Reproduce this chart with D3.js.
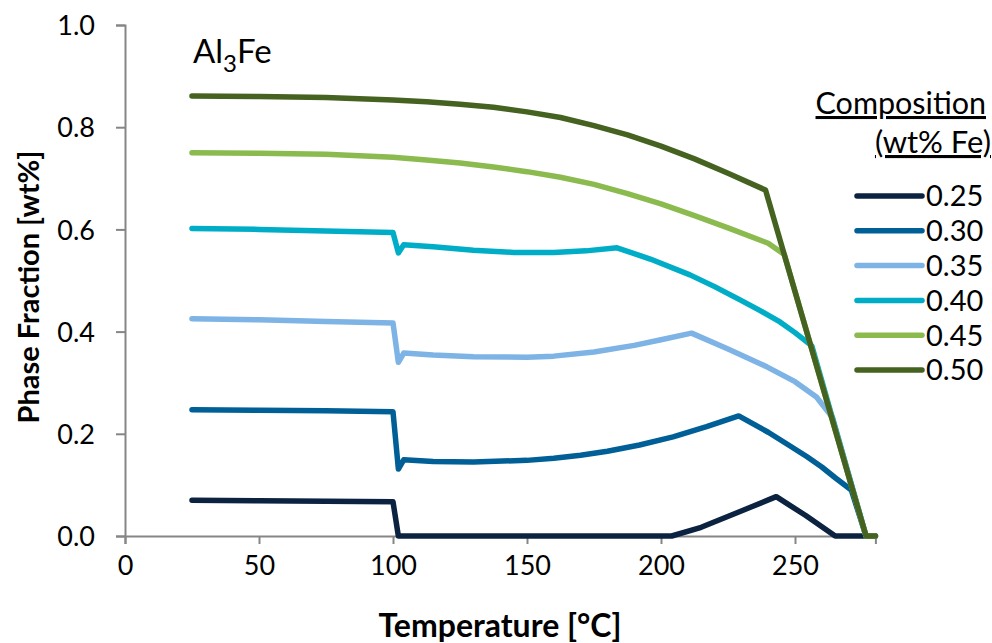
<!DOCTYPE html>
<html>
<head>
<meta charset="utf-8">
<script src="https://cdn.jsdelivr.net/npm/d3@7"></script>
<style>
  html, body { margin: 0; padding: 0; background: #fff; }
  svg { display: block; font-family: Lato, "Open Sans", sans-serif; }
</style>
</head>
<body>
<svg id="chart" width="992" height="643"></svg>
<script>
// Al3Fe phase fraction vs temperature for several Fe compositions
const compositions = ["0.25", "0.30", "0.35", "0.40", "0.45", "0.50"];
const seriesColors = ["#0B2240", "#005F96", "#7DB3E5", "#00ADC7", "#8BBB4F", "#456220"];

const temps025 = [25, 50, 75, 100, 102, 150, 204, 215, 229.5, 243, 254, 265, 276.5, 280];
const frac025  = [0.070, 0.069, 0.068, 0.067, 0, 0, 0, 0.017, 0.048, 0.077, 0.040, 0, 0, 0];

const temps030 = [25, 50, 75, 100, 102, 104, 115, 130, 150, 160, 170, 180, 192, 204.5, 217, 229, 240, 247, 254.5, 260, 265, 271, 276.5, 280];
const frac030  = [0.247, 0.246, 0.245, 0.243, 0.131, 0.149, 0.146, 0.145, 0.148, 0.152, 0.158, 0.166, 0.178, 0.194, 0.214, 0.235, 0.203, 0.180, 0.155, 0.135, 0.114, 0.090, 0, 0];

const temps035 = [25, 50, 75, 100, 102, 104, 115, 130, 150, 160, 175, 190, 200, 211.4, 225, 239.5, 250, 258, 264, 276.5, 280];
const frac035  = [0.425, 0.423, 0.420, 0.417, 0.340, 0.358, 0.354, 0.351, 0.350, 0.352, 0.360, 0.373, 0.384, 0.397, 0.366, 0.331, 0.302, 0.272, 0.232, 0, 0];

const temps040 = [25, 50, 75, 100, 102, 104, 115, 130, 145, 160, 172, 183.6, 196, 210.8, 220, 229.5, 237, 244.4, 250, 256.3, 276.5, 280];
const frac040  = [0.602, 0.600, 0.597, 0.594, 0.554, 0.570, 0.566, 0.559, 0.555, 0.555, 0.558, 0.564, 0.542, 0.511, 0.488, 0.462, 0.441, 0.419, 0.398, 0.372, 0, 0];

const temps045 = [25, 50, 75, 100, 112.5, 125, 137.5, 150, 162.5, 175, 187.5, 200, 212.5, 225, 240, 246, 276.5, 280];
const frac045  = [0.750, 0.749, 0.747, 0.741, 0.736, 0.730, 0.722, 0.713, 0.702, 0.688, 0.670, 0.650, 0.627, 0.603, 0.573, 0.551, 0, 0];

const temps050 = [25, 50, 75, 100, 112.5, 125, 137.5, 150, 162.5, 175, 187.5, 200, 212.5, 225, 239, 276.5, 280];
const frac050  = [0.861, 0.860, 0.858, 0.853, 0.850, 0.845, 0.839, 0.830, 0.819, 0.803, 0.785, 0.763, 0.738, 0.710, 0.677, 0, 0];

const seriesTemps = [temps025, temps030, temps035, temps040, temps045, temps050];
const seriesFracs = [frac025, frac030, frac035, frac040, frac045, frac050];

const xTicks = [0, 50, 100, 150, 200, 250];
const yTicks = [0, 0.2, 0.4, 0.6, 0.8, 1.0];

const svg = d3.select("#chart");
const axisColor = "#868686";

const x = d3.scaleLinear().domain([0, 280]).range([125, 875.4]);
const y = d3.scaleLinear().domain([0, 1]).range([536, 25]);

// axes
const xAxis = svg.append("g").attr("transform", `translate(0,${y(0)})`)
  .call(d3.axisBottom(x).tickValues(xTicks).tickSize(8).tickPadding(12).tickFormat(d3.format("d")));
const yAxis = svg.append("g").attr("transform", `translate(${x(0)},0)`)
  .call(d3.axisLeft(y).tickValues(yTicks).tickSize(9).tickPadding(21).tickFormat(d3.format(".1f")));

[xAxis, yAxis].forEach(g => {
  g.select(".domain").attr("stroke", axisColor).attr("stroke-width", 2);
  g.selectAll(".tick line").attr("stroke", axisColor).attr("stroke-width", 2);
  g.selectAll(".tick text").attr("fill", "#000").style("font-size", "27px")
    .style("font-family", "Lato, 'Open Sans', sans-serif");
});
yAxis.selectAll(".tick text").attr("dy", "0.36em");

// series lines
const line = d3.line().x(d => x(d[0])).y(d => y(d[1]));
seriesTemps.forEach((temps, i) => {
  const pts = temps.map((t, j) => [t, seriesFracs[i][j]]);
  svg.append("path")
    .datum(pts)
    .attr("d", line)
    .attr("fill", "none")
    .attr("stroke", seriesColors[i])
    .attr("stroke-width", 5.5)
    .attr("stroke-linejoin", "round")
    .attr("stroke-linecap", "round");
});

// axis titles
svg.append("text")
  .attr("x", 500).attr("y", 637)
  .attr("text-anchor", "middle")
  .style("font-size", "32px").style("font-weight", "bold")
  .text("Temperature [°C]");

svg.append("text")
  .attr("transform", "translate(39,287) rotate(-90)")
  .attr("text-anchor", "middle")
  .style("font-size", "29px").style("font-weight", "bold")
  .text("Phase Fraction [wt%]");

// phase label
const phase = svg.append("text").attr("x", 193).attr("y", 63).style("font-size", "33px");
phase.append("tspan").text("Al");
phase.append("tspan").attr("dy", 9).style("font-size", "24px").text("3");
phase.append("tspan").attr("dy", -9).text("Fe");

// legend
svg.append("text").attr("x", 986).attr("y", 114).attr("text-anchor", "end")
  .style("font-size", "30.5px").style("text-decoration", "underline").text("Composition");
svg.append("text").attr("x", 991).attr("y", 153).attr("text-anchor", "end")
  .style("font-size", "31px").style("text-decoration", "underline").text("(wt% Fe)");

const legend = svg.append("g");
compositions.forEach((c, i) => {
  const ly = 196 + i * 34.8;
  legend.append("line")
    .attr("x1", 857).attr("x2", 922).attr("y1", ly).attr("y2", ly)
    .attr("stroke", seriesColors[i]).attr("stroke-width", 5.5).attr("stroke-linecap", "round");
  legend.append("text")
    .attr("x", 926).attr("y", ly).attr("dy", "0.36em")
    .style("font-size", "29px").text(c);
});
</script>
</body>
</html>
